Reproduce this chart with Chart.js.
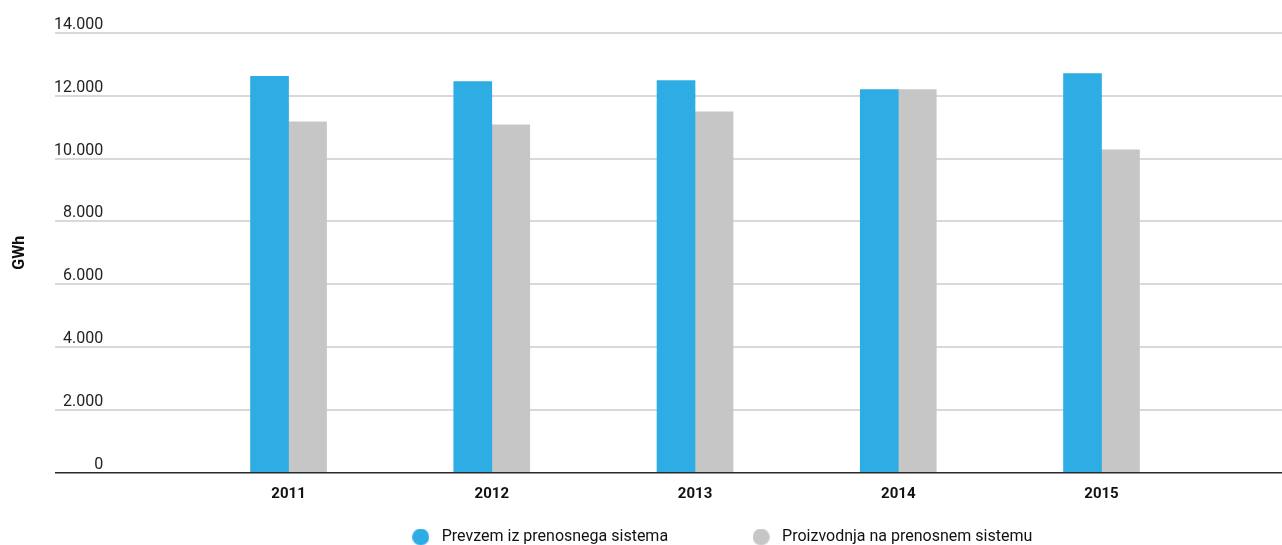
<!DOCTYPE html>
<html>
<head>
<meta charset="utf-8">
<script src="https://cdn.jsdelivr.net/npm/chart.js@4/dist/chart.umd.min.js"></script>
<style>
	html, body { margin: 0; padding: 0; background: #fff; }
	#wrap { width: 1282px; height: 545px; position: relative; }
</style>
</head>
<body>
<div id="wrap"><canvas id="chart"></canvas></div>
<script>
const years = [2011, 2012, 2013, 2014, 2015]
const prevzem = [12619, 12450, 12482, 12194, 12706]
const proizvodnja = [11171, 11075, 11491, 12194, 10276]
const yTicks = [0, 2000, 4000, 6000, 8000, 10000, 12000, 14000]
const seriesNames = ['Prevzem iz prenosnega sistema', 'Proizvodnja na prenosnem sistemu']
const colors = ['#2DADE4', '#C6C6C6']

const FONT = 'Roboto, "Liberation Sans", sans-serif'

const fmt = v => String(v).replace(/\B(?=(\d{3})+(?!\d))/g, '.')

// round legend marker as a small canvas, so the box can be wider than the dot
const dot = color => {
	const c = document.createElement('canvas')
	c.width = c.height = 17
	const g = c.getContext('2d')
	g.fillStyle = color
	g.beginPath()
	g.arc(8.5, 8.5, 8.5, 0, Math.PI * 2)
	g.fill()
	return c
}

// the legend items are spaced wider than the layout allows: widen the gap after fit
const LEGEND_GAP = 80
const legendShift = {
	id: 'legendShift',
	afterLayout(chart) {
		const lg = chart.legend
		lg.options.labels.padding = LEGEND_GAP
		lg.left += 1
		lg.right += 1
		lg.top = 529 - LEGEND_GAP
	}
}

const ctx = document.getElementById('chart').getContext('2d')
new Chart(ctx, {
	type: 'bar',
	data: {
		datasets: [
			{
				label: seriesNames[0],
				data: years.map((y, i) => ({ x: y, y: prevzem[i] })),
				backgroundColor: colors[0],
				pointStyle: dot(colors[0])
			},
			{
				label: seriesNames[1],
				data: years.map((y, i) => ({ x: y, y: proizvodnja[i] })),
				backgroundColor: colors[1],
				pointStyle: dot(colors[1])
			}
		]
	},
	plugins: [legendShift],
	options: {
		responsive: true,
		maintainAspectRatio: false,
		animation: false,
		barThickness: 38,
		layout: { padding: { top: 33, right: 0, bottom: -1, left: 0 } },
		plugins: {
			tooltip: { enabled: false },
			legend: {
				position: 'bottom',
				labels: {
					usePointStyle: true,
					pointStyleWidth: 26,
					boxHeight: 12,
					padding: 2,
					color: '#111',
					font: { family: FONT, size: 16 }
				}
			}
		},
		scales: {
			x: {
				type: 'linear',
				min: 2009.851,
				max: 2015.888,
				offset: false,
				grid: { display: false, offset: false },
				border: { display: false },
				afterBuildTicks: scale => {
					scale.ticks = years.map(v => ({ value: v }))
				},
				afterFit: scale => {
					scale.height = 45.5
				},
				ticks: {
					autoSkip: false,
					maxRotation: 0,
					padding: 5,
					color: '#111',
					font: { family: FONT, size: 15, weight: 'bold' },
					callback: v => String(v)
				}
			},
			y: {
				min: 0,
				max: 14000,
				afterBuildTicks: scale => {
					scale.ticks = yTicks.map(v => ({ value: v }))
				},
				afterFit: scale => {
					scale.width = 55
				},
				border: { display: false },
				grid: {
					drawTicks: false,
					lineWidth: ctx => (ctx.tick && ctx.tick.value === 0 ? 1.5 : 2),
					color: ctx => (ctx.tick && ctx.tick.value === 0 ? '#2A2A2A' : '#D9D9D9')
				},
				title: {
					display: true,
					text: 'GWh',
					color: '#111',
					padding: { top: 10, bottom: 0 },
					font: { family: FONT, size: 16, weight: 'bold' }
				},
				ticks: {
					mirror: true,
					crossAlign: 'far',
					align: 'end',
					padding: -1,
					color: '#222',
					font: { family: FONT, size: 16 },
					callback: v => fmt(v)
				}
			}
		}
	}
})
</script>
</body>
</html>
